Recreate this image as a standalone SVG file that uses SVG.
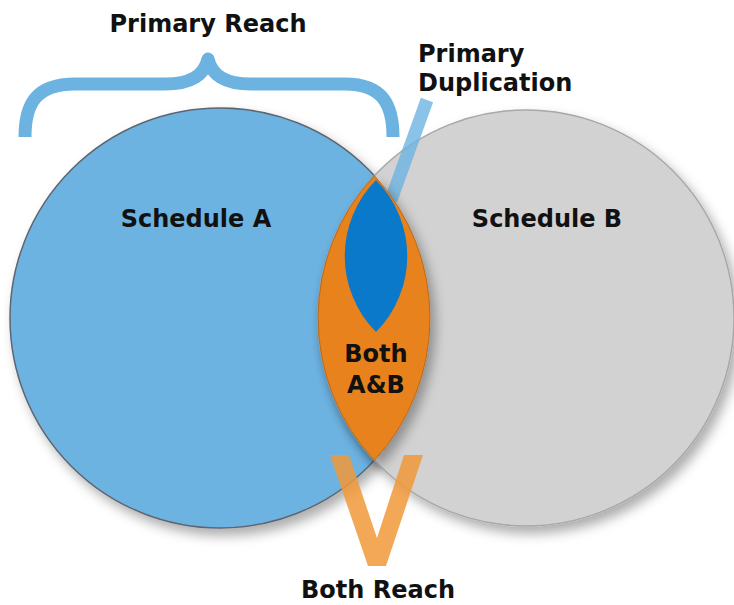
<svg xmlns="http://www.w3.org/2000/svg" width="734" height="605" viewBox="0 0 734 605">
  <defs>
    <filter id="shadow" x="-20%" y="-20%" width="140%" height="140%">
      <feDropShadow dx="5" dy="7" stdDeviation="6" flood-color="#000" flood-opacity="0.32"/>
    </filter>
    <style>
      .lbl { font-family: "DejaVu Sans", "Liberation Sans", sans-serif; font-weight: 700; font-size: 24px; fill: #111; }
      .mid { text-anchor: middle; }
    </style>
  </defs>
  <rect width="734" height="605" fill="#ffffff"/>

  <g id="schedule-a">
    <circle cx="220" cy="318" r="210" fill="#6db3e2" stroke="#5d6670" stroke-width="1.5" filter="url(#shadow)"/>
    <text class="lbl mid" x="196" y="227">Schedule A</text>
  </g>

  <g id="schedule-b">
    <circle cx="526" cy="318" r="208" fill="#d2d2d2" stroke="#a8a8a8" stroke-width="1.5" filter="url(#shadow)"/>
    <text class="lbl mid" x="547" y="227">Schedule B</text>
  </g>

  <g id="connectors">
    <line x1="427" y1="100" x2="391" y2="200" stroke="#6db3e2" stroke-opacity="0.8" stroke-width="13"/>
  </g>

  <g id="both-ab">
    <path d="M 374.4 175.7 A 210 210 0 0 1 374.4 460.3 A 208 208 0 0 1 374.4 175.7 Z" fill="#e8821c" stroke="#b86a1a" stroke-width="1" filter="url(#shadow)"/>
    <text class="lbl mid" x="376" y="362"><tspan x="376" y="362">Both</tspan><tspan x="376" y="393">A&amp;B</tspan></text>
  </g>

  <g id="primary-duplication">
    <path d="M 376 180 A 108 108 0 0 1 376 332 A 108 108 0 0 1 376 180 Z" fill="#0b79c9"/>
    <text class="lbl" x="418" y="62"><tspan x="418" y="62">Primary</tspan><tspan x="418" y="91">Duplication</tspan></text>
  </g>

  <g id="primary-reach">
    <path d="M 25 137 C 25 105 35 84 75 84 L 165 84 C 190 84 204 76 208 59 C 212 76 226 84 251 84 L 345 84 C 383 84 393 105 393 137" fill="none" stroke="#6db3e2" stroke-width="13" stroke-linejoin="round"/>
    <text class="lbl mid" x="208" y="32">Primary Reach</text>
  </g>

  <g id="both-reach">
    <polygon points="330,455 349,455 377,538 404,455 423,455 386,566 368,566" fill="#f0993a" fill-opacity="0.85"/>
    <text class="lbl mid" x="378" y="598">Both Reach</text>
  </g>
</svg>
